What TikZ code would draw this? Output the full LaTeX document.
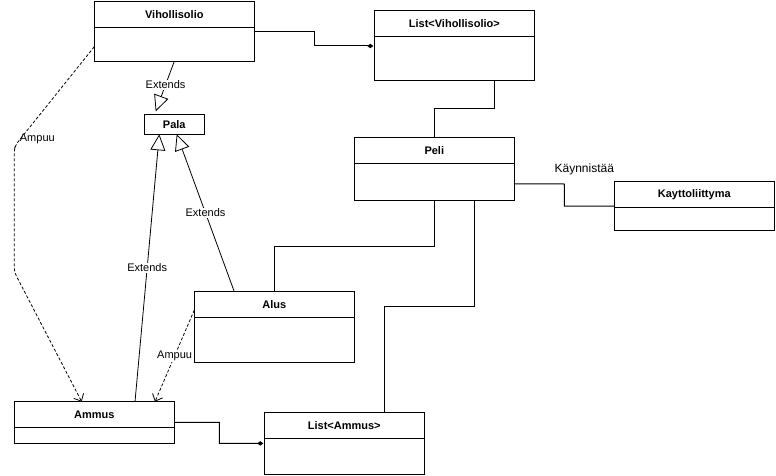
\documentclass[tikz,border=0pt]{standalone}
\usepackage{fontspec}
\setmainfont{Liberation Sans}
\usetikzlibrary{arrows.meta}

\tikzset{
  classbox/.style={draw, rectangle, inner sep=0pt, outer sep=0pt, line width=1pt},
  classtitle/.style={font=\fontsize{11}{13}\selectfont\bfseries, inner sep=0pt},
  lbl/.style={font=\fontsize{11}{13}\selectfont, fill=white, inner sep=1pt},
  assoc/.style={line width=1pt},
  aggr/.style={line width=1pt, -{Diamond[length=6pt,width=4.5pt]}, shorten >=1pt},
  extends/.style={line width=0.8pt, -{Triangle[open,length=16pt,width=15pt]}},
  uses/.style={line width=0.8pt, dash pattern=on 3pt off 2pt,
    -{Straight Barb[length=6pt,width=11pt]}}
}

% #1 node name, #2 title, #3 x, #4 y, #5 height
\newcommand{\umlclass}[5]{%
  \node[classbox, minimum width=160pt, minimum height=#5pt, anchor=north west] (#1) at (#3,#4) {};
  \node[classtitle] (#1-title) at ([yshift=-13pt]#1.north) {#2};
  \draw[line width=1pt] ([yshift=-26pt]#1.north west) -- ([yshift=-26pt]#1.north east);
}

\begin{document}
\begin{tikzpicture}[x=1pt, y=-1pt]
\useasboundingbox (0,0) rectangle (776,476);

\umlclass{vih}{Vihollisolio}{94.3}{1.3}{60}
\umlclass{listvih}{List<Vihollisolio>}{374.3}{11}{70}
\umlclass{peli}{Peli}{354.3}{137.3}{62.7}
\umlclass{kaytto}{Kayttoliittyma}{614.3}{181.5}{49.2}
\umlclass{alus}{Alus}{194.3}{291.7}{70.3}
\umlclass{ammus}{Ammus}{14.3}{401.7}{41.3}
\umlclass{listammus}{List<Ammus>}{264.3}{412.7}{61.3}

\node[classbox, minimum width=60pt, minimum height=20pt, anchor=north west,
  font=\fontsize{11}{13}\selectfont\bfseries] (pala) at (144.3,114.3) {Pala};

% associations
\draw[aggr] (vih.east) -- (314.3,31.3) |- (listvih.west);
\draw[assoc] ([xshift=40pt]listvih.south) -- ++(0,28) -| (peli.north);
\draw[assoc] ([yshift=-15.3pt]peli.east) -- (564.3,184)
  node[font=\fontsize{12}{14}\selectfont, inner sep=0pt, xshift=20pt, yshift=14.5pt] {Käynnistää}
  |- (kaytto.west);
\draw[assoc] (peli.south) -- ++(0,46) -| (alus.north);
\draw[assoc] ([xshift=40pt]peli.south) -- ++(0,106.3) -| ([xshift=40pt]listammus.north);
\draw[aggr] (ammus.east) -- (219.3,422.3) |- (listammus.west);

% inheritance
\draw[extends] (vih.south) -- node[lbl, pos=0.47] {Extends} ([xshift=-18.6pt,yshift=3pt]pala.north);
\draw[extends] ([xshift=40.7pt]ammus.north) -- node[lbl, pos=0.5] {Extends} ([xshift=-15pt]pala.south);
\draw[extends] ([xshift=-40pt]alus.north) -- node[lbl, pos=0.5] {Extends} ([xshift=2.4pt]pala.south);

% shooting
\draw[uses, rounded corners=4pt] ([yshift=-15.4pt]vih.west) --
  node[lbl, pos=1, anchor=south west, xshift=3pt, fill=none] {Ampuu} (15.5,145)
  -- (14.3,150) -- (14.3,272) -- ([xshift=67.4pt]ammus.north west);
\draw[uses] ([yshift=-18.3pt]alus.north west) -- node[lbl, pos=0.5] {Ampuu} ([xshift=140.7pt]ammus.north west);

\end{tikzpicture}
\end{document}
